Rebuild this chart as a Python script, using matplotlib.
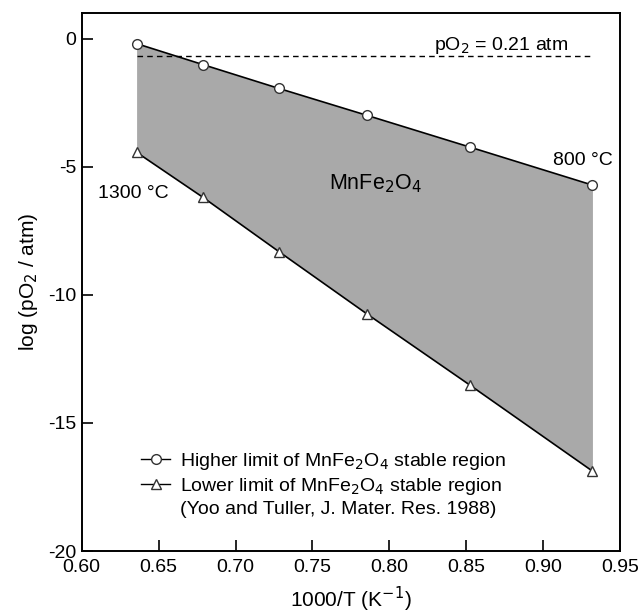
import numpy as np
import matplotlib.pyplot as plt
from matplotlib.lines import Line2D

plt.rcParams['font.family'] = ['Liberation Sans', 'DejaVu Sans']
plt.rcParams['axes.unicode_minus'] = False

# 1300, 1200, 1100, 1000, 900, 800 °C
inv_T = [0.6357, 0.6789, 0.7283, 0.7855, 0.8525, 0.9320]
log_high = [-0.2, -1.02, -1.95, -3.0, -4.24, -5.72]
log_low = [-4.44, -6.2, -8.32, -10.75, -13.53, -16.88]
log_air = np.log10(0.21)

fig, ax = plt.subplots(figsize=(6.38, 6.13), dpi=100)
fig.subplots_adjust(left=0.128, right=0.972, top=0.979, bottom=0.101)

ax.fill_between(inv_T, log_low, log_high, color='#a9a9a9', linewidth=0, zorder=1)
ax.plot(inv_T, log_high, '-o', color='black', lw=1.2, ms=7,
        mfc='white', mec='#333333', mew=1.0, zorder=3)
ax.plot(inv_T, log_low, '-^', color='black', lw=1.2, ms=7,
        mfc='white', mec='#333333', mew=1.0, zorder=3)
ax.plot([inv_T[0], inv_T[-1]], [log_air, log_air], '--', color='black',
        lw=1.0, dashes=(4, 3), zorder=2)

ax.text(0.829, -0.45, 'pO$_2$ = 0.21 atm', fontsize=14)
ax.text(0.945, -4.75, '800 °C', fontsize=14, ha='right', va='center')
ax.text(0.6105, -6.05, '1300 °C', fontsize=14, va='center')
ax.text(0.761, -5.66, 'MnFe$_2$O$_4$', fontsize=15.5, va='center')

ax.set_xlim(0.60, 0.95)
ax.set_ylim(-20, 1)
ax.set_xticks(np.arange(0.60, 0.951, 0.05))
ax.set_xticklabels(['0.60', '0.65', '0.70', '0.75', '0.80', '0.85', '0.90', '0.95'])
ax.set_yticks([0, -5, -10, -15, -20])
ax.tick_params(direction='in', length=8, width=1.2, labelsize=14,
               top=False, right=False)
ax.tick_params(axis='x', pad=6)
ax.tick_params(axis='y', pad=4)
for s in ax.spines.values():
    s.set_linewidth(1.4)

ax.set_xlabel('1000/T (K$^{-1}$)', fontsize=15, labelpad=6)
ax.set_ylabel('log (pO$_2$ / atm)', fontsize=15, labelpad=6)

h1 = Line2D([], [], color='black', lw=1.0, marker='o', ms=7, mfc='white', mec='#333333')
h2 = Line2D([], [], color='black', lw=1.0, marker='^', ms=7, mfc='white', mec='#333333')
h3 = Line2D([], [], color='none')
ax.legend([h1, h2, h3],
          ['Higher limit of MnFe$_2$O$_4$ stable region',
           'Lower limit of MnFe$_2$O$_4$ stable region',
           '(Yoo and Tuller, J. Mater. Res. 1988)'],
          loc='lower left', bbox_to_anchor=(0.092, 0.043), frameon=False,
          fontsize=14, handlelength=1.5, handletextpad=0.5, labelspacing=0.2,
          borderpad=0)

plt.savefig('out.png', dpi=100)
